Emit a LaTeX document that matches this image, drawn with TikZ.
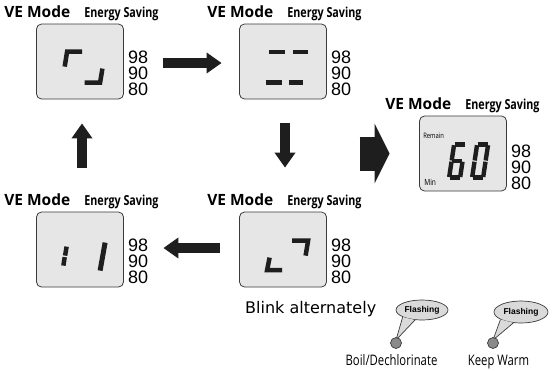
\documentclass[tikz,border=0pt]{standalone}
\usepackage{fontspec}
\usepackage{xcolor}
\usepackage{tikz}
\usetikzlibrary{arrows.meta,positioning,shapes.geometric}

\newfontfamily\headfont{Open Sans}
\newfontfamily\condfont[FakeStretch=0.78]{Open Sans}
\newfontfamily\numfont{Liberation Sans}
\newfontfamily\blinkfont{DejaVu Sans}

\definecolor{lcdgray}{HTML}{E6E6E6}
\definecolor{lcdedge}{HTML}{3A3A3A}
\definecolor{segdark}{HTML}{1E1E1E}
\definecolor{bubblegray}{HTML}{DADADA}
\definecolor{lampgray}{HTML}{8A8A8A}

\begin{document}
\begin{tikzpicture}[
    x=1pt, y=-1pt,
    lcd/.style={draw=lcdedge, fill=lcdgray, rounded corners=5pt, line width=0.8pt,
                minimum width=87pt, minimum height=75pt, inner sep=0pt},
    vemode/.style={anchor=base west, inner sep=0pt,
                   font=\headfont\bfseries\fontsize{15.5}{16}\selectfont},
    saving/.style={anchor=base west, inner sep=0pt,
                   font=\condfont\bfseries\fontsize{13.8}{14}\selectfont},
    level/.style={anchor=north west, inner sep=0pt, text height=13pt, text depth=0pt,
                  font=\numfont\fontsize{18}{18}\selectfont},
    seg/.style={draw=segdark, line width=4.5pt, line join=miter},
    digseg/.style={draw=segdark, line width=4.4pt, shorten <=0.6pt, shorten >=0.6pt},
    bigarrow/.style={draw=segdark, line width=10pt, -{Triangle[width=20pt,length=15pt]}},
    flash/.style={ellipse, draw=lcdedge, fill=bubblegray, line width=0.7pt, inner sep=0pt,
                  font=\numfont\bfseries\fontsize{8.5}{9}\selectfont},
    lamp/.style={circle, draw=lcdedge, fill=lampgray, line width=0.7pt,
                 minimum size=11pt, inner sep=0pt},
    lamplabel/.style={anchor=base, inner sep=0pt,
                      font=\condfont\fontsize{14.5}{15}\selectfont},
    ]
\useasboundingbox (0,0) rectangle (556,370);

% ---- displays ----
\node[lcd] (lcdA) at (80,61.5) {};
\node[lcd] (lcdB) at (283,61.5) {};
\node[lcd] (lcdC) at (283,249.5) {};
\node[lcd] (lcdD) at (80,249.5) {};
\node[lcd] (lcdE) at (463,153.5) {};

% ---- titles and levels ----
\node[vemode] (veA) at ([xshift=-32pt,yshift=6pt]lcdA.north west) {VE Mode};
\node[saving] (saveA) at ([xshift=48pt,yshift=6pt]lcdA.north west) {Energy Saving};
\node[level] (lvA1) at ([xshift=4pt,yshift=-27pt]lcdA.north east) {98};
\node[level, below=2.5pt of lvA1] (lvA2) {90};
\node[level, below=2.5pt of lvA2] (lvA3) {80};

\node[vemode] (veB) at ([xshift=-32pt,yshift=6pt]lcdB.north west) {VE Mode};
\node[saving] (saveB) at ([xshift=48pt,yshift=6pt]lcdB.north west) {Energy Saving};
\node[level] (lvB1) at ([xshift=4pt,yshift=-27pt]lcdB.north east) {98};
\node[level, below=2.5pt of lvB1] (lvB2) {90};
\node[level, below=2.5pt of lvB2] (lvB3) {80};

\node[vemode] (veC) at ([xshift=-32pt,yshift=6pt]lcdC.north west) {VE Mode};
\node[saving] (saveC) at ([xshift=48pt,yshift=6pt]lcdC.north west) {Energy Saving};
\node[level] (lvC1) at ([xshift=4pt,yshift=-27pt]lcdC.north east) {98};
\node[level, below=2.5pt of lvC1] (lvC2) {90};
\node[level, below=2.5pt of lvC2] (lvC3) {80};

\node[vemode] (veD) at ([xshift=-32pt,yshift=6pt]lcdD.north west) {VE Mode};
\node[saving] (saveD) at ([xshift=48pt,yshift=6pt]lcdD.north west) {Energy Saving};
\node[level] (lvD1) at ([xshift=4pt,yshift=-27pt]lcdD.north east) {98};
\node[level, below=2.5pt of lvD1] (lvD2) {90};
\node[level, below=2.5pt of lvD2] (lvD3) {80};

\node[vemode] (veE) at ([xshift=-34pt,yshift=6pt]lcdE.north west) {VE Mode};
\node[saving] (saveE) at ([xshift=46pt,yshift=6pt]lcdE.north west) {Energy Saving};
\node[level] (lvE1) at ([xshift=4pt,yshift=-29pt]lcdE.north east) {98};
\node[level, below=2.5pt of lvE1] (lvE2) {90};
\node[level, below=2.5pt of lvE2] (lvE3) {80};

% ---- segments ----
\begin{scope}[shift={(lcdA.north west)}]
  \draw[seg] (46,28) -- (31,28) -- (28.6,43);
  \draw[seg] (48.5,59) -- (64,59) -- (66.3,45);
\end{scope}
\begin{scope}[shift={(lcdB.north west)}]
  \draw[seg] (29.5,28.5) -- (45.5,28.5);
  \draw[seg] (53.5,28.5) -- (68.5,28.5);
  \draw[seg] (26.5,59) -- (42.5,59);
  \draw[seg] (49.5,59) -- (63.5,59);
\end{scope}
\begin{scope}[shift={(lcdC.north west)}]
  \draw[seg] (53,29) -- (69,29) -- (66.5,44);
  \draw[seg] (30.5,46) -- (28,58.5) -- (43,58.5);
\end{scope}
\begin{scope}[shift={(lcdD.north west)}]
  \draw[seg] (30.5,35) -- (29,44);
  \draw[seg] (28.6,45.5) -- (27.3,54);
  \draw[seg, line width=5pt] (69,31) -- (64,59);
\end{scope}
\begin{scope}[shift={(lcdE.north west)}]
  \node[anchor=base west, inner sep=0pt, font=\condfont\fontsize{7.5}{8}\selectfont] (remainE) at (4,23) {Remain};
  \node[anchor=base west, inner sep=0pt, font=\condfont\fontsize{8.5}{9}\selectfont] (minE) at (5,70) {Min};
  % 6
  \draw[digseg] (35,29) -- (46,29);
  \draw[digseg] (35,29) -- (32.5,45.5);
  \draw[digseg] (32.5,45.5) -- (43.5,45.5);
  \draw[digseg] (32.5,45.5) -- (30,62);
  \draw[digseg] (30,62) -- (41,62);
  \draw[digseg] (43.5,45.5) -- (41,62);
  % 0
  \draw[digseg] (58,29) -- (69,29);
  \draw[digseg] (69,29) -- (66.5,45.5);
  \draw[digseg] (66.5,45.5) -- (64,62);
  \draw[digseg] (53,62) -- (64,62);
  \draw[digseg] (55.5,45.5) -- (53,62);
  \draw[digseg] (58,29) -- (55.5,45.5);
\end{scope}

% ---- arrows ----
\draw[bigarrow] ([xshift=39.5pt,yshift=-1.5pt]lcdA.east) -- ([xshift=-17.5pt,yshift=-1.5pt]lcdB.west);
\draw[bigarrow] ([xshift=2pt,yshift=-24pt]lcdB.south) -- ([xshift=2pt,yshift=44pt]lcdC.north);
\draw[bigarrow] ([xshift=-19.5pt,yshift=1.5pt]lcdC.west) -- ([xshift=39.5pt,yshift=1.5pt]lcdD.east);
\draw[bigarrow] ([xshift=2pt,yshift=44pt]lcdD.north) -- ([xshift=2pt,yshift=-24pt]lcdA.south);
\draw[bigarrow, line width=34pt, -{Triangle[width=59pt,length=15pt]}]
      ([xshift=-59.5pt]lcdE.west) -- ([xshift=-29.5pt]lcdE.west);

% ---- lamps ----
\node[anchor=base west, inner sep=0pt, font=\blinkfont\fontsize{16}{18}\selectfont] (blinkTxt) at (245,313) {Blink alternately};

\coordinate (tipA) at (396,340);
\node[flash, minimum width=52pt, minimum height=20pt] (flashA) at (422,310) {Flashing};
\fill[bubblegray] (flashA.200) -- (tipA) -- (flashA.235) -- cycle;
\draw[lcdedge, line width=0.7pt] (flashA.200) -- (tipA) -- (flashA.235);
\node[lamp] (lampA) at (396,343) {};

\coordinate (tipB) at (493,340);
\node[flash, minimum width=54pt, minimum height=22pt] (flashB) at (521,312) {Flashing};
\fill[bubblegray] (flashB.200) -- (tipB) -- (flashB.235) -- cycle;
\draw[lcdedge, line width=0.7pt] (flashB.200) -- (tipB) -- (flashB.235);
\node[lamp] (lampB) at (493,343) {};

\node[lamplabel] (boilLbl) at ([xshift=-4.5pt,yshift=-22.5pt]lampA.center) {Boil/Dechlorinate};
\node[lamplabel] (warmLbl) at ([xshift=5.5pt,yshift=-22.5pt]lampB.center) {Keep Warm};
\end{tikzpicture}
\end{document}
